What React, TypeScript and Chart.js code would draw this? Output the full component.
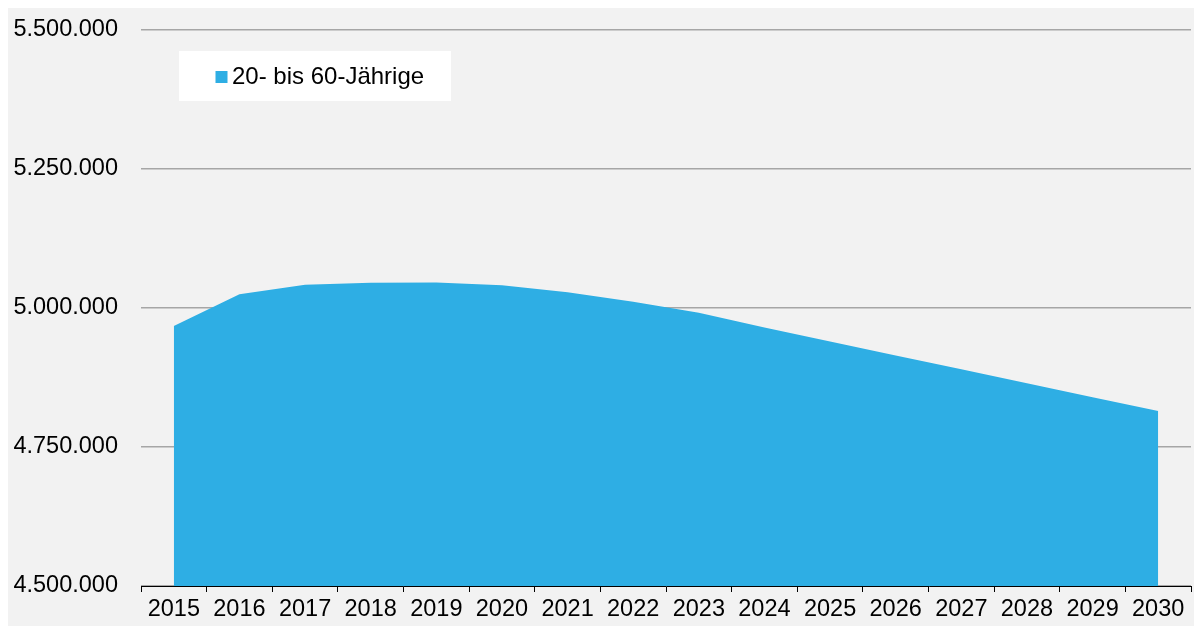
import React, { useEffect, useRef } from "react";
import { Chart, registerables } from "chart.js";

Chart.register(...registerables);

const years = ["2015", "2016", "2017", "2018", "2019", "2020", "2021", "2022", "2023", "2024", "2025", "2026", "2027", "2028", "2029", "2030"];
const population = [4967600, 5024600, 5041900, 5045500, 5045900, 5040800, 5028200, 5011300, 4991500, 4964900, 4939700, 4914700, 4889700, 4864700, 4839700, 4814700];
const seriesLabel = "20- bis 60-Jährige";
const yMin = 4500000;
const yMax = 5500000;
const yStep = 250000;

const FONT = "'Liberation Sans', Arial, sans-serif";
const FONT_SIZE = 23.5;
const AREA_COLOR = "#2eaee4";

const formatDE = (v: number) => String(Math.round(v)).replace(/\B(?=(\d{3})+(?!\d))/g, ".");

const legendPlugin = {
  id: "boxLegend",
  afterDraw(chart: any) {
    const { ctx, chartArea } = chart;
    const ds = chart.data.datasets[0];
    const x = chartArea.left + 38;
    const y = chartArea.top + 21;
    ctx.save();
    ctx.fillStyle = "#ffffff";
    ctx.fillRect(x, y, 272, 50);
    ctx.fillStyle = ds.backgroundColor;
    ctx.fillRect(x + 36.5, y + 20, 12, 12);
    ctx.fillStyle = "#000000";
    ctx.font = `24px ${FONT}`;
    ctx.textBaseline = "middle";
    ctx.textAlign = "left";
    ctx.fillText(ds.label, x + 53, y + 26);
    ctx.restore();
  },
};

export default function App() {
  const ref = useRef<HTMLCanvasElement | null>(null);
  useEffect(() => {
    if (!ref.current) return;
    const chart = new Chart(ref.current, {
      type: "line",
      data: {
        labels: years,
        datasets: [
          {
            label: seriesLabel,
            data: population,
            backgroundColor: AREA_COLOR,
            borderColor: AREA_COLOR,
            borderWidth: 0,
            pointRadius: 0,
            fill: "start",
            tension: 0,
          },
        ],
      },
      options: {
        animation: false,
        responsive: false,
        maintainAspectRatio: false,
        layout: { padding: { top: 22, right: 3, left: 0, bottom: 0 } },
        plugins: {
          legend: { display: false },
          tooltip: { enabled: false },
        },
        scales: {
          x: {
            offset: true,
            grid: {
              offset: true,
              drawOnChartArea: false,
              drawTicks: true,
              tickLength: 6,
              color: "#000000",
              lineWidth: 1,
            },
            border: { display: true, color: "#000000", width: 1 },
            ticks: {
              color: "#000000",
              font: { family: FONT, size: FONT_SIZE },
              padding: 3,
              maxRotation: 0,
              autoSkip: false,
            },
            afterFit(scale: any) {
              scale.height = 40;
              scale.paddingLeft = 0;
              scale.paddingRight = 0;
            },
          },
          y: {
            min: yMin,
            max: yMax,
            grid: {
              color: "#a6a6a6",
              lineWidth: 1.5,
              drawTicks: false,
            },
            border: { display: false },
            ticks: {
              stepSize: yStep,
              color: "#000000",
              font: { family: FONT, size: FONT_SIZE },
              padding: 23,
              callback: (v: any) => formatDE(Number(v)),
            },
            afterFit(scale: any) {
              scale.width = 133;
              scale.paddingTop = 0;
              scale.paddingBottom = 0;
            },
          },
        },
      },
      plugins: [legendPlugin],
    });
    return () => chart.destroy();
  }, []);
  return (
    <div
      style={{
        position: "absolute",
        left: 8,
        top: 8,
        width: 1186,
        height: 618,
        background: "#f2f2f2",
      }}
    >
      <canvas ref={ref} width={1186} height={618} style={{ display: "block" }} />
    </div>
  );
}
